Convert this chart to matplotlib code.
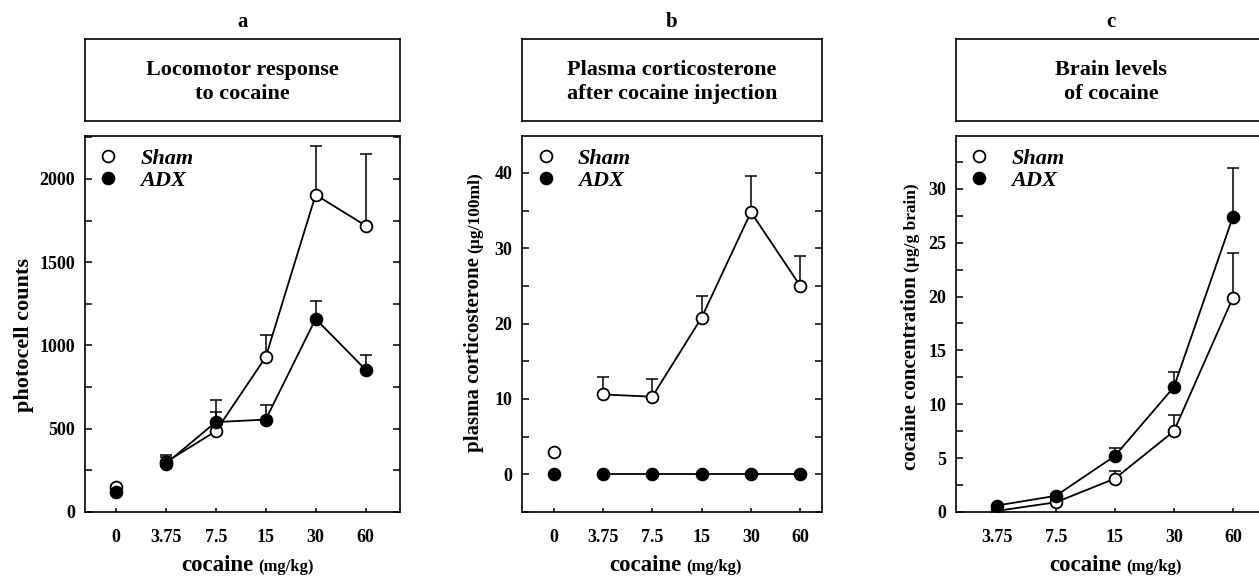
import numpy as np
import matplotlib
matplotlib.use("Agg")
import matplotlib.pyplot as plt
from matplotlib.lines import Line2D

plt.rcParams['font.family'] = ['Liberation Serif', 'DejaVu Serif']
plt.rcParams['font.weight'] = 'bold'

# panel a: locomotor response
doses_a = ['0', '3.75', '7.5', '15', '30', '60']
sham_a = [150, 300, 485, 930, 1905, 1720]
sham_a_sem = [15, 45, 115, 135, 295, 430]
adx_a = [120, 290, 540, 555, 1160, 855]
adx_a_sem = [10, 40, 130, 90, 110, 85]

# panel b: plasma corticosterone
doses_b = ['0', '3.75', '7.5', '15', '30', '60']
sham_b = [3.0, 10.6, 10.3, 20.8, 34.8, 25.0]
sham_b_sem = [0, 2.3, 2.3, 2.8, 4.8, 4.0]
adx_b = [0, 0, 0, 0, 0, 0]
adx_b_sem = [0, 0, 0, 0, 0, 0]

# panel c: brain cocaine
doses_c = ['3.75', '7.5', '15', '30', '60']
sham_c = [0.1, 0.9, 3.1, 7.5, 19.9]
sham_c_sem = [0, 0.3, 0.7, 1.5, 4.1]
adx_c = [0.6, 1.5, 5.2, 11.6, 27.4]
adx_c_sem = [0, 0.2, 0.7, 1.4, 4.5]

W, H = 1259, 577
fig = plt.figure(figsize=(W / 100, H / 100), dpi=100)


def fx(x):
    return x / W


def fy(y):
    return 1 - y / H


def draw_series(ax, x, y, sem, filled, connect_from):
    x = np.asarray(x)
    y = np.asarray(y, dtype=float)
    sem = np.asarray(sem, dtype=float)
    ax.errorbar(x, y, yerr=[np.zeros_like(sem), sem], fmt='none', ecolor='black',
                elinewidth=1.1, capsize=4.5, capthick=1.1)
    face = 'black' if filled else 'white'
    style = dict(marker='o', markersize=8.5, markerfacecolor=face,
                 markeredgecolor='black', markeredgewidth=1.3, color='black', lw=1.3)
    ax.plot(x[connect_from:], y[connect_from:], '-', **style)
    if connect_from > 0:
        ax.plot(x[:connect_from], y[:connect_from], linestyle='none', **style)


def panel(left, right, letter, title, cats, sham, sham_sem, adx, adx_sem,
          connect_from, ylim, major, minor, xlim):
    # title box
    tb = fig.add_axes([fx(left), fy(121), fx(right - left), (121 - 39) / H])
    tb.set_xticks([])
    tb.set_yticks([])
    for s in tb.spines.values():
        s.set_linewidth(1.2)
    tb.text(0.5, 0.475, title, ha='center', va='center', fontsize=16,
            fontweight='bold', linespacing=1.28, transform=tb.transAxes)
    fig.text(fx((left + right) / 2), fy(22), letter, ha='center', va='center',
             fontsize=15, fontweight='bold')

    ax = fig.add_axes([fx(left), fy(512), fx(right - left), (512 - 136) / H])
    x = np.arange(len(cats))
    draw_series(ax, x, sham, sham_sem, False, connect_from)
    draw_series(ax, x, adx, adx_sem, True, connect_from)
    ax.set_xlim(*xlim)
    ax.set_ylim(*ylim)
    ax.set_xticks(x)
    ax.set_xticklabels(cats)
    ax.set_yticks(np.arange(0, ylim[1], major))
    ax.set_yticks(np.arange(ylim[0], ylim[1], minor), minor=True)
    ax.tick_params(axis='y', which='both', direction='in', length=5, width=1.1,
                   right=True, labelsize=13, pad=7)
    ax.tick_params(axis='x', direction='in', length=3, width=1.1,
                   labelsize=13, pad=12)
    for s in ax.spines.values():
        s.set_linewidth(1.2)
    handles = [Line2D([], [], marker='o', linestyle='none', markersize=8.5,
                      markerfacecolor=f, markeredgecolor='black', markeredgewidth=1.3)
               for f in ('white', 'black')]
    ax.legend(handles, ['Sham', 'ADX'], loc='upper left', bbox_to_anchor=(-0.025, 1.02),
              frameon=False, handlelength=1.0, handletextpad=0.95, labelspacing=0.05,
              prop=dict(family='Liberation Serif', style='italic', weight='bold', size=16))
    return ax


def split_label(x, y, big, small, rot=0, big_size=16.5, small_size=12):
    kw = dict(va='baseline', rotation=rot, rotation_mode='anchor', fontweight='bold')
    fig.text(fx(x), fy(y), big, ha='right', fontsize=big_size, **kw)
    if rot:
        fig.text(fx(x), fy(y - 4), small, ha='left', fontsize=small_size, **kw)
    else:
        fig.text(fx(x + 4), fy(y), small, ha='left', fontsize=small_size, **kw)


ax_a = panel(85, 400, 'a', 'Locomotor response\nto cocaine', doses_a,
             sham_a, sham_a_sem, adx_a, adx_a_sem, 1,
             (0, 2258), 500, 250, (-0.62, 5.69))
ax_b = panel(522, 822, 'b', 'Plasma corticosterone\nafter cocaine injection', doses_b,
             sham_b, sham_b_sem, adx_b, adx_b_sem, 1,
             (-5, 44.9), 10, 5, (-0.64, 5.44))
ax_c = panel(956, 1266, 'c', 'Brain levels\nof cocaine', doses_c,
             sham_c, sham_c_sem, adx_c, adx_c_sem, 0,
             (0, 34.9), 5, 2.5, (-0.69, 4.56))

fig.text(fx(29), fy(335), 'photocell counts', ha='center', va='baseline',
         rotation=90, rotation_mode='anchor', fontsize=16, fontweight='bold')
split_label(479, 257, 'plasma corticosterone', '(µg/100ml)', rot=90,
            big_size=15, small_size=12.5)
split_label(916, 276, 'cocaine concentration', '(µg/g brain)', rot=90,
            big_size=15, small_size=12.5)
split_label(254, 571, 'cocaine', '(mg/kg)')
split_label(682, 571, 'cocaine', '(mg/kg)')
split_label(1122, 571, 'cocaine', '(mg/kg)')

fig.savefig('out.png', dpi=100)
